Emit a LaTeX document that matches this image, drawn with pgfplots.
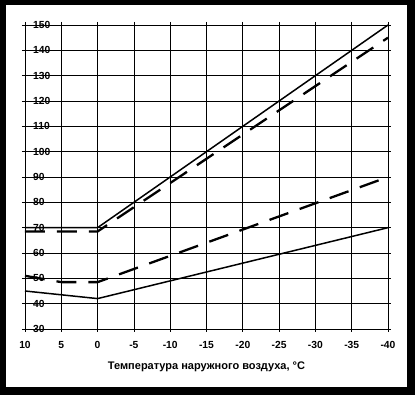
\documentclass[border=0pt]{standalone}
\usepackage{fontspec}
\setmainfont{Liberation Sans}
\usepackage{pgfplots}
\pgfplotsset{compat=1.18}
\begin{document}
\begin{tikzpicture}[x=1pt,y=1pt]
\fill[black] (0,0) rectangle (415,395);
\fill[white] (6,8) rectangle (407,390);
\begin{axis}[
  at={(25pt,66pt)}, anchor=south west,
  scale only axis, width=363pt, height=304pt,
  xmin=-40, xmax=10, x dir=reverse,
  ymin=30, ymax=150,
  xtick={-40,-35,...,10},
  xticklabels={-40,-35,-30,-25,-20,-15,-10,-5,0,5,10},
  ytick={30,40,...,150},
  yticklabels={30,40,50,60,70,80,90,100,110,120,130,140,150},
  grid=major, grid style={black, line width=0.7pt},
  axis line style={black, line width=0.8pt},
  tick align=outside, major tick length=3pt, tick style={black, line width=0.7pt},
  ticklabel style={font=\bfseries\fontsize{10.3}{12}\selectfont},
  yticklabel style={anchor=west, inner sep=0pt, xshift=11pt},
  xticklabel style={yshift=-6pt},
  xlabel={Температура наружного воздуха, °C},
  xlabel style={font=\bfseries\fontsize{11}{13}\selectfont, at={(axis description cs:0.5,0)}, anchor=center, yshift=-38pt},
]
\addplot[black, line width=1.5pt] coordinates {(10,70) (0,70) (-40,150)};
\addplot[black, line width=2.3pt, dash pattern=on 20pt off 12pt] coordinates {(10,68.5) (0,68.5) (-40,145)};
\addplot[black, line width=2.3pt, dash pattern=on 20pt off 12pt] coordinates {(10,51) (5,48.5) (0,48.5) (-40,90)};
\addplot[black, line width=1.5pt] coordinates {(10,45) (0,42) (-40,70)};
\end{axis}
\end{tikzpicture}
\end{document}
